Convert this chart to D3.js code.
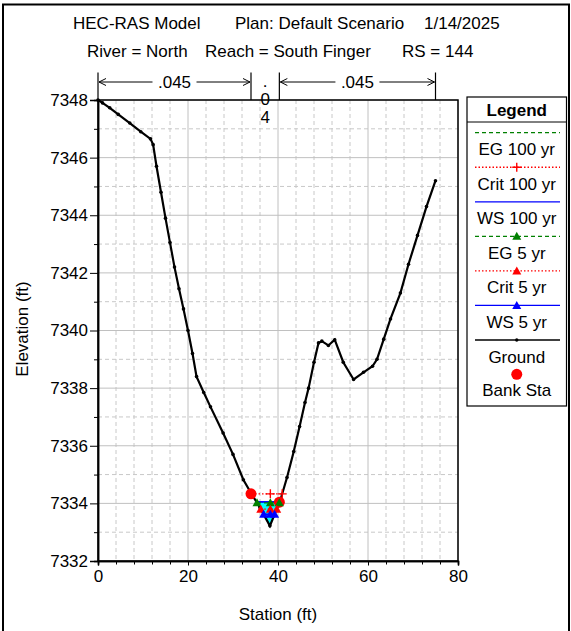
<!DOCTYPE html>
<html><head><meta charset="utf-8">
<script src="https://cdn.jsdelivr.net/npm/d3@7"></script>
<style>
html,body{margin:0;padding:0;background:#fff;}
svg text{font-family:"Liberation Sans",Arial,sans-serif;font-size:17px;fill:#000;}
</style></head>
<body>
<svg id="c" width="571" height="631"></svg>
<script>
// ---------- DATA ----------
const titleLine1 = [["HEC-RAS Model",73],["Plan: Default Scenario",235],["1/14/2025",424]];
const titleLine2 = [["River = North",87],["Reach = South Finger",205],["RS = 144",402]];
const xTicks = [0,20,40,60,80];
const yTicks = [7332,7334,7336,7338,7340,7342,7344,7346,7348];
const groundSta = [0,1,2.6,4.5,7.06,9.5,11.67,12.25,13,14,15,16,17,18,19,20,21,21.9,23.5,25,27.8,30,32.3,34,36,38.2,40.5,42,43.5,44.8,46,46.8,48,49,49.75,51.2,52.6,54.5,56.8,59,61,62,63.5,65,67.2,69,71,73,75];
const groundElev = [7348.0,7347.9,7347.73,7347.5,7347.2,7346.9,7346.65,7346.45,7345.7,7344.8,7343.9,7343.05,7342.2,7341.45,7340.75,7340.0,7339.2,7338.4,7337.85,7337.35,7336.44,7335.7,7334.82,7334.36,7333.85,7333.22,7334.1,7334.9,7335.8,7336.67,7337.5,7338.0,7338.9,7339.57,7339.63,7339.48,7339.68,7338.9,7338.3,7338.55,7338.76,7339.0,7339.7,7340.4,7341.3,7342.3,7343.3,7344.3,7345.2];
const bankSta = [34.0, 40.3];
const bankElev = [7334.33, 7334.04];
const nValues = [".045", ".04", ".045"];
const profileNames = ["EG 100 yr","Crit 100 yr","WS 100 yr","EG 5 yr","Crit 5 yr","WS 5 yr"];
const profileElev = [7334.82, 7334.33, 7334.05, 7334.02, 7333.80, 7333.62];
const profileColor = ["#008000","#ff0000","#0000ff","#008000","#ff0000","#0000ff"];
const profileDash = ["4,3","1.5,2","","4,3","1.5,2",""];
const profileMarker = ["none","plus","none","tri","tri","tri"];
const waterFillElev = 7334.05;

// ---------- SETUP ----------
const svg = d3.select("#c");
const x = d3.scaleLinear().domain([0,80]).range([98,458]);
const y = d3.scaleLinear().domain([7332,7348]).range([561,100]);
const ground = groundSta.map((s,i)=>[s,groundElev[i]]);

// outer frame
svg.append("rect").attr("x",3).attr("y",4.5).attr("width",566).attr("height",700)
  .attr("fill","none").attr("stroke","#000").attr("stroke-width",2);

// titles
svg.selectAll(".t1").data(titleLine1).join("text").attr("x",d=>d[1]).attr("y",28.5).text(d=>d[0]);
svg.selectAll(".t2").data(titleLine2).join("text").attr("x",d=>d[1]).attr("y",57).text(d=>d[0]);

// grid
const g = svg.append("g");
const minorX = d3.range(0,81,4).filter(v=>v%20!==0);
const minorY = d3.range(7332,7349,1).filter(v=>v%2!==0);
g.selectAll(".mx").data(minorX).join("line").attr("x1",d=>x(d)).attr("x2",d=>x(d)).attr("y1",y(7348)).attr("y2",y(7332))
  .attr("stroke","#c8c8c8").attr("stroke-dasharray","4,3");
g.selectAll(".my").data(minorY).join("line").attr("y1",d=>y(d)).attr("y2",d=>y(d)).attr("x1",x(0)).attr("x2",x(80))
  .attr("stroke","#c8c8c8").attr("stroke-dasharray","4,3");
g.selectAll(".Mx").data(xTicks).join("line").attr("x1",d=>x(d)).attr("x2",d=>x(d)).attr("y1",y(7348)).attr("y2",y(7332))
  .attr("stroke","#c0c0c0");
g.selectAll(".My").data(yTicks).join("line").attr("y1",d=>y(d)).attr("y2",d=>y(d)).attr("x1",x(0)).attr("x2",x(80))
  .attr("stroke","#c0c0c0");

// helpers
function crossings(level){
  const out=[];
  for(let i=0;i<ground.length-1;i++){
    const [s0,e0]=ground[i],[s1,e1]=ground[i+1];
    if((e0-level)*(e1-level)<0){ out.push(s0+(level-e0)/(e1-e0)*(s1-s0)); }
  }
  return out;
}
const thalweg = ground.reduce((a,b)=>b[1]<a[1]?b:a);

// water fill
{
  const c = crossings(waterFillElev);
  const l=c[0], r=c[c.length-1];
  const pts=[[l,waterFillElev]].concat(ground.filter(p=>p[0]>l&&p[0]<r)).concat([[r,waterFillElev]]);
  svg.append("path").attr("d",d3.line().x(d=>x(d[0])).y(d=>y(d[1]))(pts)+"Z").attr("fill","#00ffff");
}

// profile lines
const markerLayer = [];
profileElev.forEach((e,i)=>{
  const c = crossings(e);
  const l=c[0], r=c[c.length-1];
  svg.append("line").attr("x1",x(l)).attr("x2",x(r)).attr("y1",y(e)).attr("y2",y(e))
    .attr("stroke",profileColor[i]).attr("stroke-width",i===2||i===5?1.8:1.3)
    .attr("stroke-dasharray",profileDash[i]||null);
  if(profileMarker[i]!=="none") markerLayer.push({i,e,xs:[l,thalweg[0]+0.1,r]});
});

// ground
svg.append("path").attr("d",d3.line().x(d=>x(d[0])).y(d=>y(d[1]))(ground))
  .attr("fill","none").attr("stroke","#000").attr("stroke-width",2.2);
svg.selectAll(".gd").data(ground).join("circle").attr("cx",d=>x(d[0])).attr("cy",d=>y(d[1])).attr("r",1.8).attr("fill","#000");

// bank stations
svg.selectAll(".bk").data(bankSta).join("circle").attr("cx",d=>x(d)).attr("cy",(d,i)=>y(bankElev[i])).attr("r",5.5).attr("fill","#ff0000");

function drawMarker(sel,type,cx,cy,color){
  if(type==="tri"){
    sel.append("path").attr("d",`M${cx-4.5},${cy+3.5}L${cx+4.5},${cy+3.5}L${cx},${cy-4.5}Z`).attr("fill",color);
  } else if(type==="plus"){
    sel.append("path").attr("d",`M${cx-4.5},${cy}H${cx+4.5}M${cx},${cy-4.5}V${cy+4.5}`).attr("stroke",color).attr("stroke-width",1.4).attr("fill","none");
  }
}
markerLayer.forEach(m=>{
  m.xs.forEach(s=>drawMarker(svg,profileMarker[m.i],x(s),y(m.e),profileColor[m.i]));
});

// plot frame
svg.append("rect").attr("x",x(0)).attr("y",y(7348)).attr("width",x(80)-x(0)).attr("height",y(7332)-y(7348))
  .attr("fill","none").attr("stroke","#000").attr("stroke-width",1.5);

// axes
const yAxis = svg.append("g").attr("transform",`translate(${x(0)},0)`)
  .call(d3.axisLeft(y).tickValues(yTicks).tickSize(8).tickPadding(2).tickFormat(d3.format("d")));
const yMinor = svg.append("g").attr("transform",`translate(${x(0)},0)`)
  .call(d3.axisLeft(y).tickValues(minorY).tickSize(4).tickFormat(""));
const xAxis = svg.append("g").attr("transform",`translate(0,${y(7332)})`)
  .call(d3.axisBottom(x).tickValues(xTicks).tickSize(4.5).tickPadding(4));
const xMinor = svg.append("g").attr("transform",`translate(0,${y(7332)})`)
  .call(d3.axisBottom(x).tickValues(minorX).tickSize(3.5).tickFormat(""));
[yAxis,yMinor,xAxis,xMinor].forEach(a=>{
  a.select(".domain").attr("stroke","#000").attr("stroke-width",1.5);
  a.selectAll(".tick line").attr("stroke","#000");
  a.selectAll("text").attr("font-size",17).attr("font-family","Liberation Sans, Arial, sans-serif").attr("fill","#000");
});

svg.append("text").attr("x",278).attr("y",620).attr("text-anchor","middle").text("Station (ft)");
svg.append("text").attr("transform","translate(28,329) rotate(-90)").attr("text-anchor","middle").text("Elevation (ft)");

// Manning's n annotations
const nBounds = [0, bankSta[0], bankSta[1], groundSta[groundSta.length-1]];
nBounds.forEach(s=>{
  svg.append("line").attr("x1",x(s)).attr("x2",x(s)).attr("y1",72.5).attr("y2",y(7348)).attr("stroke","#000").attr("stroke-width",1.2);
});
const ay = 82;
function arrowSeg(a,b,label){
  const xa=x(a)+1, xb=x(b)-1, xm=(xa+xb)/2;
  const tw = 38;
  svg.append("line").attr("x1",xa).attr("x2",xm-tw/2-3).attr("y1",ay).attr("y2",ay).attr("stroke","#000");
  svg.append("line").attr("x1",xm+tw/2+3).attr("x2",xb).attr("y1",ay).attr("y2",ay).attr("stroke","#000");
  svg.append("path").attr("d",`M${xa+7},${ay-3.5}L${xa},${ay}L${xa+7},${ay+3.5}`).attr("fill","none").attr("stroke","#000");
  svg.append("path").attr("d",`M${xb-7},${ay-3.5}L${xb},${ay}L${xb-7},${ay+3.5}`).attr("fill","none").attr("stroke","#000");
  svg.append("text").attr("x",xm).attr("y",88).attr("text-anchor","middle").text(label);
}
arrowSeg(nBounds[0],nBounds[1],nValues[0]);
arrowSeg(nBounds[2],nBounds[3],nValues[2]);
const midX = (x(nBounds[1])+x(nBounds[2]))/2;
nValues[1].split("").forEach((ch,i)=>{
  svg.append("text").attr("x",midX).attr("y",[86.5,105,123][i]).attr("text-anchor","middle")
    .attr("font-size",14.5).text(ch);
});

// legend
const lx0=467, lx1=566.5, ly0=97, ly1=406;
svg.append("rect").attr("x",lx0).attr("y",ly0).attr("width",lx1-lx0).attr("height",ly1-ly0).attr("fill","#fff").attr("stroke","#000").attr("stroke-width",1.2);
svg.append("line").attr("x1",lx0).attr("x2",lx1).attr("y1",122).attr("y2",122).attr("stroke","#000");
svg.append("text").attr("x",(lx0+lx1)/2).attr("y",115.5).attr("text-anchor","middle").attr("font-weight","bold").text("Legend");
const legNames = profileNames.concat(["Ground"]);
const legColors = profileColor.concat(["#000"]);
const legDash = profileDash.concat([""]);
const legMarker = profileMarker.concat(["dot"]);
const lcx=(lx0+lx1)/2;
legNames.forEach((nm,i)=>{
  const ly = 132.7 + 34.55*i;
  svg.append("line").attr("x1",475).attr("x2",560).attr("y1",ly).attr("y2",ly)
    .attr("stroke",legColors[i]).attr("stroke-width",1.3).attr("stroke-dasharray",legDash[i]||null);
  if(legMarker[i]==="dot") svg.append("circle").attr("cx",lcx).attr("cy",ly).attr("r",1.7).attr("fill","#000");
  else if(legMarker[i]!=="none") drawMarker(svg,legMarker[i],lcx,ly,legColors[i]);
  svg.append("text").attr("x",lcx).attr("y",ly+22.5).attr("text-anchor","middle").text(nm);
});
svg.append("circle").attr("cx",lcx).attr("cy",374.3).attr("r",5.5).attr("fill","#ff0000");
svg.append("text").attr("x",lcx).attr("y",396).attr("text-anchor","middle").text("Bank Sta");
</script>
</body></html>
